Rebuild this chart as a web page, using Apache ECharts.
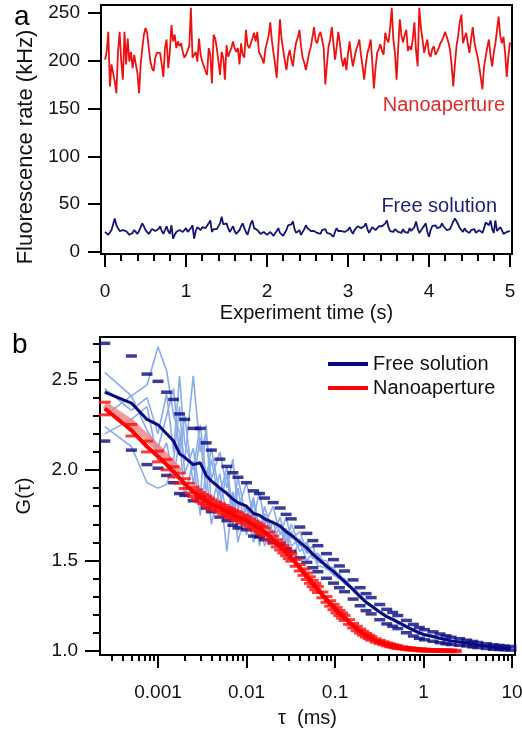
<!DOCTYPE html>
<html><head><meta charset="utf-8">
<script src="https://cdn.jsdelivr.net/npm/echarts@6/dist/echarts.min.js"></script>
<style>html,body{margin:0;padding:0;background:#fff}#c{width:522px;height:732px}</style>
</head><body><div id="c"></div>
<script>
// ---------- Panel a : fluorescence time traces ----------
const binWidth = 0.02; // s per sample of both traces
const redRate = [201,209,230,173,196,197,178,166,209,230,199,180,230,196,223,199,209,192,206,196,187,166,196,213,227,234,229,213,199,192,189,203,208,206,208,196,183,213,222,192,209,237,220,227,213,220,215,218,209,203,206,204,215,255,203,206,209,199,223,206,199,197,189,185,213,206,176,227,223,213,199,185,209,203,180,216,204,209,213,220,213,209,213,196,218,206,203,232,216,213,218,223,229,220,230,209,
211,202,197,212,219,226,240,221,208,196,182,214,243,222,211,200,190,204,211,201,194,209,219,224,232,215,203,198,190,199,208,214,224,235,221,218,226,230,222,213,175,196,215,222,235,218,201,214,230,218,202,194,203,190,207,220,205,194,203,211,216,222,206,194,180,196,208,214,222,198,171,192,208,212,217,210,206,229,222,219,234,255,222,208,180,214,243,226,219,227,232,210,215,211,222,240,210,194,255,235,222,208,216,222,207,204,212,215,206,209,213,218,221,225,230,232,219,211,195,173,196,215,226,240,248,218,224,229,217,208,222,235,220,211,204,194,182,170,194,204,214,222,205,194,208,218,232,246,226,218,225,208,183,204,219];
const blueRate = [21,20,18,18,23,29,35,28,25,22,21,23,25,22,20,18,16,20,23,21,19,22,26,30,27,23,22,19,20,24,25,22,21,24,27,22,19,23,27,22,19,28,14,18,21,22,23,21,21,23,
25,21,19,25,28,14,22,26,24,23,26,28,25,25,30,33,21,24,26,24,23,30,37,29,27,30,25,21,24,27,22,19,21,23,27,30,25,21,18,16,30,33,25,24,23,21,19,20,21,19,
18,20,21,19,17,16,22,25,20,18,17,16,23,28,26,29,32,24,20,22,23,18,16,24,28,25,23,22,21,22,23,20,22,19,23,21,24,20,22,19,17,16,21,25,22,21,22,23,21,19,
23,26,22,19,23,25,27,28,25,23,27,30,24,20,23,26,25,23,25,27,28,27,26,30,33,26,22,20,21,24,24,21,23,20,24,21,23,20,25,22,21,26,32,25,20,22,25,27,30,21,
16,23,27,27,28,25,23,26,30,27,25,23,21,24,28,32,35,37,29,25,24,21,25,22,24,20,23,21,24,20,22,23,21,20,25,31,29,28,33,24,20,33,22,21,26,23,19,20,21,22,22];
const timeTicks = [0,1,2,3,4,5];
const timeMinorTicks = [0.2,0.4,0.6,0.8,1.2,1.4,1.6,1.8,2.2,2.4,2.6,2.8,3.2,3.4,3.6,3.8,4.2,4.4,4.6,4.8];
const rateTicks = [0,50,100,150,200,250];

// ---------- Panel b : correlation curves ----------
const tauFree = [0.00025,0.0005,0.00075,0.001,0.00125,0.0015,0.00175,0.002,0.0025,0.003,0.0035,0.004,0.005,0.006,0.007,0.008,0.01,0.012,0.014,0.016,0.02,0.024,0.028,0.032,0.04,0.048,0.056,0.064,0.08,0.096,0.112,0.128,0.16,0.192,0.224,0.256,0.32,0.384,0.448,0.512,0.64,0.768,0.896,1.024,1.28,1.536,1.792,2.048,2.56,3.072,3.584,4.096,5.12,6.144,7.168,8.192,9.728];
const gFree = [2.43,2.37,2.28,2.25,2.20,2.16,2.09,2.07,2.03,2.04,1.97,1.94,1.90,1.87,1.84,1.82,1.80,1.76,1.75,1.73,1.71,1.69,1.66,1.64,1.60,1.57,1.535,1.51,1.47,1.44,1.41,1.385,1.34,1.30,1.27,1.25,1.215,1.19,1.175,1.16,1.135,1.115,1.10,1.09,1.08,1.07,1.062,1.056,1.05,1.044,1.038,1.033,1.027,1.022,1.02,1.017,1.015];
const sdFree = [0.27,0.26,0.25,0.24,0.23,0.23,0.22,0.21,0.20,0.19,0.18,0.17,0.16,0.15,0.145,0.14,0.13,0.125,0.12,0.115,0.11,0.10,0.095,0.09,0.085,0.08,0.075,0.072,0.068,0.065,0.06,0.057,0.053,0.05,0.047,0.045,0.042,0.04,0.038,0.036,0.034,0.032,0.03,0.028,0.026,0.024,0.022,0.02,0.018,0.016,0.015,0.014,0.013,0.012,0.011,0.01,0.01];
const freeRun1 = [2.54,2.41,2.47,2.68,2.55,2.30,2.21,2.05,2.52,2.10,2.20,1.95,2.10,1.90,2.06,1.78,1.93,1.73,1.88,1.70,1.80,1.64,1.74,1.62,1.66,1.55,1.58,1.50,1.50,1.42,1.43,1.38,1.35,1.31,1.275,1.255,1.22,1.195,1.18,1.165,1.14,1.12,1.105,1.095,1.085,1.075,1.066,1.06,1.053,1.047,1.041,1.036,1.03,1.025,1.022,1.019,1.017];
const freeRun2 = [2.24,2.13,1.93,1.90,1.92,2.05,2.35,1.98,2.12,1.85,2.25,1.80,1.98,1.72,1.88,1.66,1.80,1.68,1.62,1.76,1.60,1.70,1.56,1.66,1.55,1.59,1.51,1.53,1.45,1.45,1.40,1.39,1.33,1.30,1.265,1.245,1.21,1.185,1.17,1.155,1.13,1.11,1.095,1.085,1.075,1.066,1.058,1.053,1.047,1.041,1.036,1.031,1.025,1.02,1.018,1.015,1.013];
const freeRun3 = [2.30,2.41,2.22,2.12,2.30,2.45,2.08,2.30,1.92,2.18,1.88,2.06,1.80,1.98,1.70,1.90,1.64,1.83,1.58,1.74,1.66,1.58,1.68,1.58,1.62,1.54,1.55,1.49,1.48,1.43,1.42,1.37,1.345,1.30,1.27,1.25,1.215,1.19,1.175,1.16,1.135,1.115,1.10,1.09,1.08,1.07,1.062,1.056,1.05,1.044,1.038,1.033,1.027,1.022,1.02,1.017,1.015];
const freeRun4 = [2.45,2.33,2.40,2.20,2.42,2.10,2.52,2.15,2.00,2.25,1.95,2.12,1.86,2.02,1.78,1.96,1.72,1.85,1.66,1.80,1.64,1.74,1.60,1.70,1.58,1.60,1.53,1.54,1.47,1.46,1.41,1.40,1.34,1.305,1.275,1.25,1.22,1.19,1.178,1.16,1.137,1.117,1.10,1.09,1.08,1.07,1.063,1.057,1.05,1.045,1.039,1.034,1.028,1.023,1.021,1.018,1.016];
const freeRun5 = [2.20,2.28,2.35,2.05,2.15,1.95,2.18,1.85,2.05,1.75,2.00,1.70,1.90,1.55,1.86,1.60,1.80,1.60,1.72,1.58,1.72,1.55,1.66,1.52,1.60,1.50,1.54,1.47,1.46,1.42,1.40,1.375,1.335,1.295,1.265,1.245,1.21,1.188,1.172,1.158,1.133,1.113,1.098,1.088,1.078,1.068,1.06,1.055,1.048,1.043,1.037,1.032,1.026,1.021,1.019,1.016,1.014];
const tauNano = [0.00025,0.0005,0.00075,0.001,0.00125,0.0015,0.00175,0.002,0.00225,0.0025,0.00275,0.003,0.00325,0.0035,0.00375,0.004,0.0045,0.005,0.0055,0.006,0.0065,0.007,0.0075,0.008,0.009,0.01,0.011,0.012,0.013,0.014,0.015,0.016,0.018,0.02,0.022,0.024,0.026,0.028,0.03,0.032,0.036,0.04,0.044,0.048,0.052,0.056,0.06,0.064,0.072,0.08,0.088,0.096,0.104,0.112,0.12,0.128,0.144,0.16,0.176,0.192,0.208,0.224,0.24,0.256,0.288,0.32,0.352,0.384,0.416,0.448,0.48,0.512,0.576,0.64,0.704,0.768,0.832,0.896,0.96,1.024,1.152,1.28,1.408,1.536,1.664,1.792,1.92,2.048,2.304];
const gNano = [2.34,2.22,2.13,2.075,2.03,1.99,1.955,1.925,1.90,1.88,1.865,1.85,1.84,1.83,1.82,1.81,1.80,1.79,1.78,1.77,1.762,1.755,1.748,1.742,1.73,1.72,1.708,1.697,1.686,1.676,1.667,1.658,1.637,1.615,1.595,1.578,1.562,1.546,1.53,1.515,1.487,1.46,1.436,1.413,1.392,1.373,1.356,1.34,1.31,1.285,1.263,1.243,1.226,1.21,1.196,1.183,1.16,1.14,1.124,1.11,1.098,1.087,1.078,1.07,1.058,1.05,1.043,1.037,1.032,1.028,1.024,1.021,1.017,1.014,1.012,1.01,1.008,1.007,1.006,1.005,1.004,1.003,1.003,1.002,1.002,1.001,1.001,1.001,1.0];
const sdNano = [0.035,0.032,0.03,0.03,0.029,0.028,0.028,0.027,0.027,0.026,0.026,0.026,0.025,0.025,0.025,0.025,0.024,0.024,0.024,0.023,0.023,0.023,0.023,0.022,0.022,0.022,0.022,0.021,0.021,0.021,0.021,0.021,0.02,0.02,0.02,0.02,0.02,0.019,0.019,0.019,0.019,0.018,0.018,0.018,0.018,0.017,0.017,0.017,0.016,0.016,0.015,0.015,0.015,0.014,0.014,0.014,0.013,0.012,0.012,0.011,0.011,0.01,0.01,0.01,0.009,0.009,0.008,0.008,0.008,0.007,0.007,0.007,0.006,0.006,0.006,0.005,0.005,0.005,0.005,0.005,0.004,0.004,0.004,0.004,0.004,0.004,0.004,0.004,0.004];
const nanoRun = [2.36,2.26,2.18,2.12,2.07,2.03,1.99];
const tauTicks = [0.001,0.01,0.1,1,10];
const tauTickLabels = ['0.001','0.01','0.1','1','10'];
const tauMinorTicks = [0.0003,0.0004,0.0005,0.0006,0.0007,0.0008,0.0009,0.002,0.003,0.004,0.005,0.006,0.007,0.008,0.009,0.02,0.03,0.04,0.05,0.06,0.07,0.08,0.09,0.2,0.3,0.4,0.5,0.6,0.7,0.8,0.9,2,3,4,5,6,7,8,9];
const gTicks = [1.0,1.5,2.0,2.5];
const gMinorTicks = [1.1,1.2,1.3,1.4,1.6,1.7,1.8,1.9,2.1,2.2,2.3,2.4,2.6,2.7];

// ---------- chart ----------
const FONT = 'Liberation Sans, Arial, Helvetica, sans-serif';
const BLK = '#111';
const zip = (xs, ys) => ys.map((y, i) => [xs[i], y]);
const withTime = arr => arr.map((v, i) => [+(i * binWidth).toFixed(3), v]);
const chart = echarts.init(document.getElementById('c'), null, {renderer: 'canvas'});

function valueAxisBase(extra) {
  return Object.assign({
    splitLine: {show: false},
    axisLine: {show: false, onZero: false},
    axisLabel: {show: false},
    axisTick: {show: false}
  }, extra);
}
const tickStyle = {color: '#000', width: 2};
const labelStyle = {fontSize: 19, color: BLK, fontFamily: FONT};
const nameStyle = {fontSize: 20, color: BLK, fontFamily: FONT};

const lightRuns = [freeRun1, freeRun2, freeRun3, freeRun4, freeRun5].map(run => ({
  type: 'line', xAxisIndex: 2, yAxisIndex: 1, data: zip(tauFree, run),
  showSymbol: false, symbol: 'none', silent: true, z: 1,
  lineStyle: {color: '#8aaceb', width: 1.6}
}));

const option = {
  animation: false,
  backgroundColor: '#fff',
  grid: [
    {left: 101, top: 5, right: 10, height: 249, show: true, borderColor: '#000', borderWidth: 2, outerBoundsMode: 'none', containLabel: false},
    {left: 100, top: 337, right: 7, height: 318, show: true, borderColor: '#000', borderWidth: 2, outerBoundsMode: 'none', containLabel: false}
  ],
  xAxis: [
    valueAxisBase({gridIndex: 0, type: 'value', min: -0.05, max: 5.025, position: 'bottom',
      axisLine: {show: true, onZero: false, lineStyle: tickStyle},
      axisTick: {show: true, customValues: timeTicks, length: 13, lineStyle: tickStyle},
      axisLabel: Object.assign({show: true, customValues: timeTicks, margin: 28, formatter: v => String(v)}, labelStyle),
      name: 'Experiment time (s)', nameLocation: 'middle', nameGap: 49, nameTextStyle: nameStyle}),
    valueAxisBase({gridIndex: 0, type: 'value', min: -0.05, max: 5.025, position: 'bottom',
      axisTick: {show: true, customValues: timeMinorTicks, length: 7, lineStyle: tickStyle}}),
    valueAxisBase({gridIndex: 1, type: 'log', logBase: 10, min: 0.000221, max: 10.8, position: 'bottom',
      axisLine: {show: true, onZero: false, lineStyle: tickStyle},
      axisTick: {show: true, customValues: tauTicks, length: 13, lineStyle: tickStyle},
      axisLabel: Object.assign({show: true, customValues: tauTicks, margin: 28,
        formatter: v => { let best = 0; tauTicks.forEach((t, i) => { if (Math.abs(Math.log10(t) - Math.log10(v)) < Math.abs(Math.log10(tauTicks[best]) - Math.log10(v))) best = i; }); return tauTickLabels[best]; }}, labelStyle),
      name: 'τ  (ms)', nameLocation: 'middle', nameGap: 53, nameTextStyle: nameStyle}),
    valueAxisBase({gridIndex: 1, type: 'log', logBase: 10, min: 0.000221, max: 10.8, position: 'bottom',
      axisTick: {show: true, customValues: tauMinorTicks, length: 6, lineStyle: tickStyle}})
  ],
  yAxis: [
    valueAxisBase({gridIndex: 0, type: 'value', min: -2, max: 258, position: 'left',
      axisLine: {show: true, onZero: false, lineStyle: tickStyle},
      axisTick: {show: true, customValues: rateTicks, length: 13, lineStyle: tickStyle},
      axisLabel: Object.assign({show: true, customValues: rateTicks, margin: 21, formatter: v => String(v)}, labelStyle),
      name: 'Fluorescence rate (kHz)', nameLocation: 'middle', nameGap: 64,
      nameTextStyle: Object.assign({}, nameStyle, {fontSize: 22, padding: [0, 35, 0, 0]})}),
    valueAxisBase({gridIndex: 1, type: 'value', min: 0.978, max: 2.735, position: 'left',
      axisLine: {show: true, onZero: false, lineStyle: tickStyle},
      axisTick: {show: true, customValues: gTicks, length: 15, lineStyle: tickStyle},
      axisLabel: Object.assign({show: true, customValues: gTicks, margin: 22, formatter: v => v.toFixed(1)}, labelStyle),
      name: 'G(τ)', nameLocation: 'middle', nameGap: 66, nameTextStyle: nameStyle}),
    valueAxisBase({gridIndex: 1, type: 'value', min: 0.978, max: 2.735, position: 'left',
      axisTick: {show: true, customValues: gMinorTicks, length: 7, lineStyle: tickStyle}})
  ],
  legend: {
    left: 328, top: 354, orient: 'vertical', padding: 0, itemGap: 4,
    itemWidth: 40, itemHeight: 4, icon: 'rect', selectedMode: false,
    data: ['Free solution', 'Nanoaperture'],
    textStyle: {fontSize: 20, color: BLK, fontFamily: FONT}
  },
  graphic: [
    {type: 'text', left: 14, top: 3, style: {text: 'a', fontSize: 28, fill: '#000', fontFamily: FONT}},
    {type: 'text', left: 12, top: 331, style: {text: 'b', fontSize: 28, fill: '#000', fontFamily: FONT}},
    {type: 'text', right: 17, top: 95, style: {text: 'Nanoaperture', fontSize: 20, fill: '#e02a2a', fontFamily: FONT}},
    {type: 'text', right: 25, top: 196, style: {text: 'Free solution', fontSize: 20, fill: '#1c1c82', fontFamily: FONT}}
  ],
  series: [
    {type: 'line', xAxisIndex: 0, yAxisIndex: 0, data: withTime(redRate), showSymbol: false, symbol: 'none', silent: true,
      lineStyle: {color: '#ee1111', width: 1.8}},
    {type: 'line', xAxisIndex: 0, yAxisIndex: 0, data: withTime(blueRate), showSymbol: false, symbol: 'none', silent: true,
      lineStyle: {color: '#14147a', width: 1.8}},
    ...lightRuns,
    {type: 'line', xAxisIndex: 2, yAxisIndex: 1, data: zip(tauNano, nanoRun), showSymbol: false, symbol: 'none', silent: true, z: 2,
      lineStyle: {color: 'rgba(240,120,120,0.75)', width: 7}},
    {type: 'scatter', xAxisIndex: 2, yAxisIndex: 1, silent: true, z: 3, symbol: 'rect', symbolSize: [11, 3.5],
      itemStyle: {color: '#0a0a80'},
      data: tauFree.map((t, i) => [t, gFree[i] + sdFree[i]]).concat(tauFree.map((t, i) => [t, gFree[i] - sdFree[i]]))},
    {type: 'scatter', xAxisIndex: 2, yAxisIndex: 1, silent: true, z: 4, symbol: 'rect', symbolSize: [12, 3],
      itemStyle: {color: '#ff0a0a'},
      data: tauNano.map((t, i) => [t, gNano[i] + sdNano[i]]).concat(tauNano.map((t, i) => [t, gNano[i] - sdNano[i]]))},
    {name: 'Nanoaperture', type: 'line', xAxisIndex: 2, yAxisIndex: 1, data: zip(tauNano, gNano), showSymbol: false, symbol: 'none', silent: true, z: 5,
      color: '#ff0000', itemStyle: {color: '#ff0000'}, lineStyle: {color: '#ff0000', width: 4}},
    {name: 'Free solution', type: 'line', xAxisIndex: 2, yAxisIndex: 1, data: zip(tauFree, gFree), showSymbol: false, symbol: 'none', silent: true, z: 6,
      color: '#0a0a80', itemStyle: {color: '#0a0a80'}, lineStyle: {color: '#0a0a80', width: 3}}
  ]
};
chart.setOption(option);
</script></body></html>
